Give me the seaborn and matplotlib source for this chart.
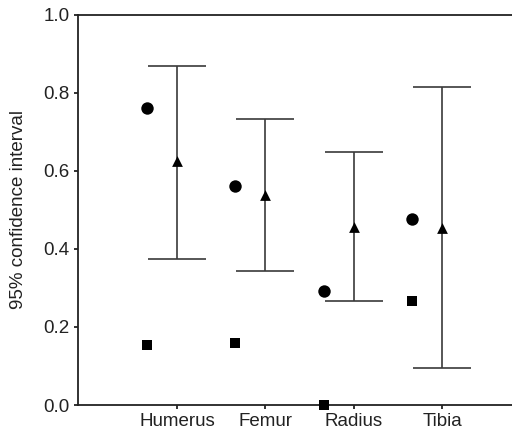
import matplotlib
matplotlib.use("Agg")
import matplotlib.pyplot as plt
import seaborn as sns
import numpy as np
import pandas as pd

bones = ["Humerus", "Femur", "Radius", "Tibia"]
ci_low = [0.374, 0.342, 0.266, 0.094]
ci_high = [0.868, 0.733, 0.647, 0.815]
triangle_vals = [0.624, 0.538, 0.457, 0.453]
circle_vals = [0.761, 0.562, 0.291, 0.476]
square_vals = [0.154, 0.158, 0.0, 0.266]
y_ticks = [0.0, 0.2, 0.4, 0.6, 0.8, 1.0]

sns.set_theme(style="ticks")
plt.rcParams['font.family'] = ['Liberation Sans', 'DejaVu Sans']

fig = plt.figure(figsize=(5.12, 4.32), dpi=100)
ax = fig.add_axes([78/512, 1 - 405/432, 1 - 78/512, (405 - 14.5)/432])

pos = np.arange(len(bones))
offset = -0.34
df = pd.DataFrame({
    "pos": pos, "bone": bones, "low": ci_low, "high": ci_high,
    "tri": triangle_vals, "circ": circle_vals, "sq": square_vals,
})
df["side"] = df["pos"] + offset

mid = (df["low"] + df["high"]) / 2
half = (df["high"] - df["low"]) / 2
ax.errorbar(df["pos"], mid, yerr=half, fmt="none", ecolor="#3a3a3a",
            elinewidth=1.2, capsize=21, capthick=1.2, zorder=2)

sns.scatterplot(data=df, x="pos", y="tri", marker="^", s=60, color="black",
                edgecolor="black", linewidth=0, ax=ax, zorder=3)
sns.scatterplot(data=df, x="side", y="circ", marker="o", s=80, color="black",
                edgecolor="black", linewidth=0, ax=ax, zorder=3)
sns.scatterplot(data=df, x="side", y="sq", marker="s", s=50, color="black",
                edgecolor="black", linewidth=0, ax=ax, zorder=3, clip_on=False)

ax.set_xlim(-1.12, 3.79)
ax.set_ylim(0, 1.0)
ax.set_xticks(pos)
ax.set_xticklabels(bones, fontsize=13.5, color="#222222")
ax.set_yticks(y_ticks)
ax.set_yticklabels([f"{v:.1f}" for v in y_ticks], fontsize=13.5, color="#222222")
ax.set_xlabel("")
ax.set_ylabel("95% confidence interval", fontsize=13.5, color="#222222")
ax.yaxis.set_label_coords(-0.118, 0.5)

for s in ["left", "top", "bottom"]:
    ax.spines[s].set_linewidth(1.3)
    ax.spines[s].set_color("#222222")
ax.spines["right"].set_visible(False)
ax.tick_params(axis="both", direction="out", length=3, width=1.3, color="#222222", pad=3)

fig.savefig("out.png", dpi=100)
